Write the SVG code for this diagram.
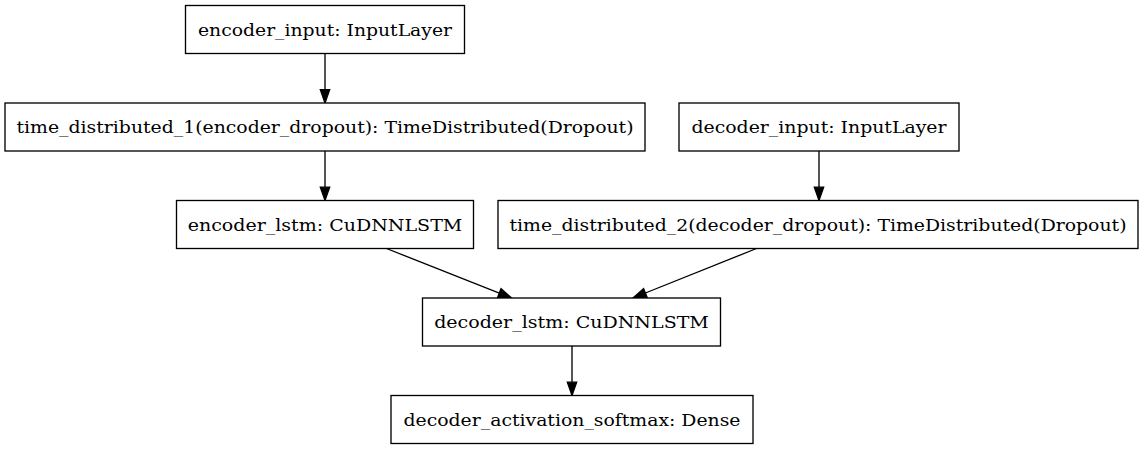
<svg xmlns="http://www.w3.org/2000/svg" width="1144" height="449" viewBox="0 0 1144 449">
<style>
.box{fill:#ffffff;stroke:#000000;stroke-width:1.33}
.lbl{font-family:"DejaVu Serif","Liberation Serif",serif;font-size:16px;fill:#000000;text-anchor:middle}
.edge{stroke:#000000;stroke-width:1.33;fill:none}
.head{fill:#000000;stroke:#000000;stroke-width:1.33}
</style>
<rect x="0" y="0" width="1144" height="449" fill="#ffffff"/>
<g id="connectors">
<line class="edge" x1="325" y1="53.5" x2="325" y2="89.7"/>
<polygon class="head" points="320.33,89.7 329.67,89.7 325,103"/>
<line class="edge" x1="325" y1="151" x2="325" y2="187.2"/>
<polygon class="head" points="320.33,187.2 329.67,187.2 325,200.5"/>
<line class="edge" x1="819" y1="151" x2="819" y2="187.2"/>
<polygon class="head" points="814.33,187.2 823.67,187.2 819,200.5"/>
<line class="edge" x1="386.5" y1="248.5" x2="499.3" y2="293.1"/>
<polygon class="head" points="497.6,297.4 501,288.7 511.7,298"/>
<line class="edge" x1="756.5" y1="248.5" x2="645.4" y2="293"/>
<polygon class="head" points="647.1,297.3 643.6,288.7 633,298"/>
<line class="edge" x1="572" y1="346" x2="572" y2="382.2"/>
<polygon class="head" points="567.33,382.2 576.67,382.2 572,395.5"/>
</g>
<g id="encoder_input">
<rect class="box" x="185.5" y="5.5" width="279" height="48"/>
<text class="lbl" x="325" y="35.7" textLength="254" lengthAdjust="spacingAndGlyphs">encoder_input: InputLayer</text>
</g>
<g id="time_distributed_1">
<rect class="box" x="5" y="103" width="640" height="48"/>
<text class="lbl" x="325" y="133.2" textLength="617" lengthAdjust="spacingAndGlyphs">time_distributed_1(encoder_dropout): TimeDistributed(Dropout)</text>
</g>
<g id="decoder_input">
<rect class="box" x="679" y="103" width="280" height="48"/>
<text class="lbl" x="819" y="133.2" textLength="255" lengthAdjust="spacingAndGlyphs">decoder_input: InputLayer</text>
</g>
<g id="encoder_lstm">
<rect class="box" x="176.5" y="200.5" width="297" height="48"/>
<text class="lbl" x="325" y="230.7" textLength="274.6" lengthAdjust="spacingAndGlyphs">encoder_lstm: CuDNNLSTM</text>
</g>
<g id="time_distributed_2">
<rect class="box" x="498" y="200.5" width="640" height="48"/>
<text class="lbl" x="818" y="230.7" textLength="617" lengthAdjust="spacingAndGlyphs">time_distributed_2(decoder_dropout): TimeDistributed(Dropout)</text>
</g>
<g id="decoder_lstm">
<rect class="box" x="422.5" y="298" width="298" height="48"/>
<text class="lbl" x="571.5" y="328.2" textLength="274.7" lengthAdjust="spacingAndGlyphs">decoder_lstm: CuDNNLSTM</text>
</g>
<g id="decoder_activation_softmax">
<rect class="box" x="391" y="395.5" width="362" height="48"/>
<text class="lbl" x="572" y="425.7" textLength="337" lengthAdjust="spacingAndGlyphs">decoder_activation_softmax: Dense</text>
</g>
</svg>
